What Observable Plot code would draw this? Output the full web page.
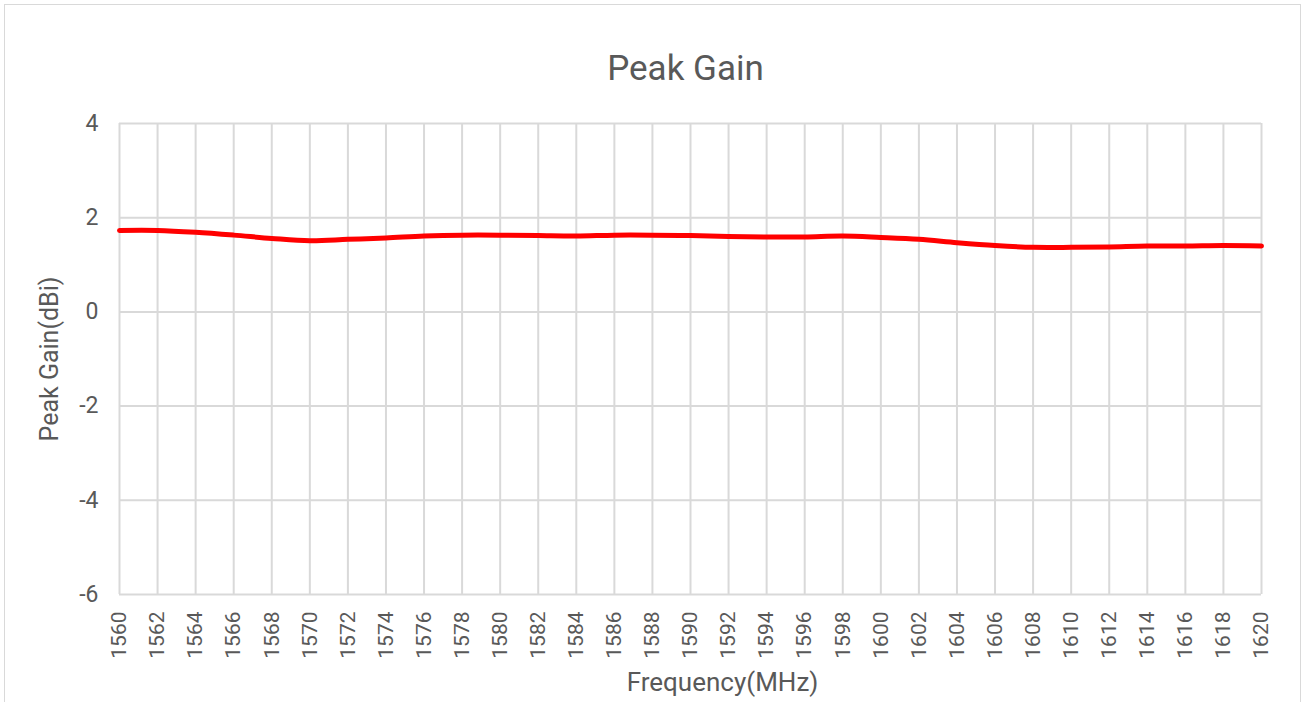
<!DOCTYPE html>
<html>
<head>
<meta charset="utf-8">
<script src="https://cdn.jsdelivr.net/npm/d3@7"></script>
<script src="https://cdn.jsdelivr.net/npm/@observablehq/plot@0.6"></script>
<style>
  html, body { margin: 0; padding: 0; background: #fff; }
  #frame { position: relative; width: 1307px; height: 702px; overflow: hidden; }
  #border { position: absolute; left: 4px; top: 4px; width: 1297px; height: 720px; border: 1px solid #d9d9d9; box-sizing: border-box; }
  #title { position: absolute; left: 0; width: 1307px; top: 49px; text-align: center; padding-left: 64px; box-sizing: border-box;
           font-family: Roboto, "Liberation Sans", sans-serif; font-weight: 400; font-size: 35px; color: #595959; line-height: 40px; }
  #chart { position: absolute; left: 0; top: 100px; }
</style>
</head>
<body>
<div id="frame">
  <div id="border"></div>
  <div id="title">Peak Gain</div>
  <div id="chart"></div>
</div>
<script>
const frequencies = [1560,1562,1564,1566,1568,1570,1572,1574,1576,1578,1580,1582,1584,1586,1588,1590,1592,1594,1596,1598,1600,1602,1604,1606,1608,1610,1612,1614,1616,1618,1620];
const peakGain = [1.73,1.73,1.69,1.63,1.56,1.51,1.54,1.57,1.61,1.63,1.63,1.62,1.61,1.63,1.63,1.62,1.60,1.59,1.59,1.61,1.58,1.54,1.47,1.41,1.37,1.37,1.38,1.40,1.40,1.41,1.40];
const yTicks = [4,2,0,-2,-4,-6];
const xLabel = "Frequency(MHz)";
const yLabel = "Peak Gain(dBi)";

const data = frequencies.map((f, i) => ({f, g: peakGain[i]}));

const chart = Plot.plot({
  width: 1307,
  height: 602,
  marginLeft: 119,
  marginRight: 46,
  marginTop: 23,
  marginBottom: 108,
  style: {fontFamily: "Roboto, 'Liberation Sans', sans-serif", fontWeight: 400, fontSize: "22px", color: "#595959", background: "transparent"},
  x: {domain: [1560, 1620]},
  y: {domain: [-6, 4]},
  marks: [
    Plot.ruleX(frequencies, {stroke: "#d9d9d9", strokeWidth: 2, strokeOpacity: 1}),
    Plot.ruleY(yTicks, {stroke: "#d9d9d9", strokeWidth: 2, strokeOpacity: 1}),
    Plot.axisX(frequencies, {tickSize: 0, tickPadding: 17, tickRotate: -90, tickFormat: d => String(d), fontSize: 21,
      label: null, fill: "#595959"}),
    Plot.text([xLabel], {frameAnchor: "bottom", lineAnchor: "bottom", dx: 32, dy: 96, fontSize: 26, fill: "#595959"}),
    Plot.axisY(yTicks, {tickSize: 0, tickPadding: 21, tickFormat: d => d < 0 ? "-" + Math.abs(d) : String(d), fontSize: 23,
      label: null, fill: "#595959"}),
    Plot.axisY({label: yLabel, labelAnchor: "center", labelArrow: "none", labelOffset: 79,
      ticks: [], tickSize: 0, fontSize: 25, fill: "#595959"}),
    Plot.line(data, {x: "f", y: "g", stroke: "#ff0000", strokeWidth: 5, curve: "catmull-rom"})
  ]
});
document.getElementById("chart").appendChild(chart);
</script>
</body>
</html>
